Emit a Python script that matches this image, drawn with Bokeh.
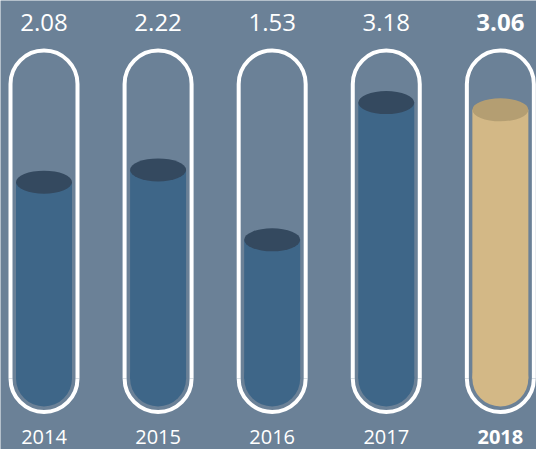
import math
from bokeh.plotting import figure
from bokeh.models import Range1d, LinearScale, ColumnDataSource
from bokeh.core.properties import value
from bokeh.embed import file_html
from bokeh.resources import INLINE

# ---- data ----
years = ["2014", "2015", "2016", "2017", "2018"]
values = [2.08, 2.22, 1.53, 3.18, 3.06]
highlight = "2018"

# ---- style ----
BG = "#6b8197"
BODY = "#3e6688"
TOP = "#34495f"
BODY_HI = "#d3b886"
TOP_HI = "#b49e72"
FONT = value("Open Sans")

W, H = 536, 449
PX_PER_UNIT = 114.09
X0 = -43.5 / PX_PER_UNIT
X1 = X0 + W / PX_PER_UNIT

idx = list(range(len(years)))
is_hi = [y == highlight for y in years]

src = ColumnDataSource(dict(
    x=idx,
    v=values,
    year=years,
    label=[f"{v:.2f}" for v in values],
    body=[BODY_HI if h else BODY for h in is_hi],
    top=[TOP_HI if h else TOP for h in is_hi],
    style=["bold" if h else "normal" for h in is_hi],
    xl=[i - 33.5 / PX_PER_UNIT for i in idx],
    xr=[i + 33.5 / PX_PER_UNIT for i in idx],
))

p = figure(width=W, height=H, x_range=Range1d(X0, X1), y_range=Range1d(0.5, 5.48),
           y_axis_type="log", x_axis_location=None, y_axis_location=None,
           output_backend="svg", toolbar_location=None, min_border=0,
           background_fill_color=BG, border_fill_color=BG, outline_line_color=None)
p.grid.visible = False
p.extra_y_ranges = {"px": Range1d(0, H)}
p.extra_y_scales = {"px": LinearScale()}

FILL_BASE = 0.7306  # bottom of liquid body (log scale) = centre of rounded bottom
BOTTOM_C = 71       # px range: centre of bottom rounding
TOP_C = 365.5       # px range: centre of top rounding

# liquid: rounded bottom + body + top ellipse
p.circle(x="x", y=BOTTOM_C, radius=28, radius_units="screen", source=src,
         fill_color="body", line_color=None, y_range_name="px")
p.vbar(x="x", bottom=FILL_BASE, top="v", width=56 / PX_PER_UNIT, source=src,
       fill_color="body", line_color=None)
p.ellipse(x="x", y="v", width=56, height=23, width_units="screen", height_units="screen",
          source=src, fill_color="top", line_color=None)

# tube outline
p.segment(x0="xl", y0=BOTTOM_C, x1="xl", y1=TOP_C, source=src, line_color="white",
          line_width=4, y_range_name="px")
p.segment(x0="xr", y0=BOTTOM_C, x1="xr", y1=TOP_C, source=src, line_color="white",
          line_width=4, y_range_name="px")
p.arc(x="x", y=TOP_C, radius=33.5, radius_units="screen", start_angle=0, end_angle=math.pi,
      source=src, line_color="white", line_width=4, y_range_name="px")
p.arc(x="x", y=BOTTOM_C, radius=33.5, radius_units="screen", start_angle=math.pi,
      end_angle=2 * math.pi, source=src, line_color="white", line_width=4, y_range_name="px")

# labels
p.text(x="x", y=427, text="label", source=src, text_font=FONT, text_font_size="24px",
       text_font_style="style", text_color="white", text_align="center",
       text_baseline="alphabetic", y_range_name="px")
p.text(x="x", y=13, text="year", source=src, text_font=FONT, text_font_size="20px",
       text_font_style="style", text_color="white", text_align="center",
       text_baseline="alphabetic", y_range_name="px")

open("out.html", "w").write(file_html(p, INLINE))
